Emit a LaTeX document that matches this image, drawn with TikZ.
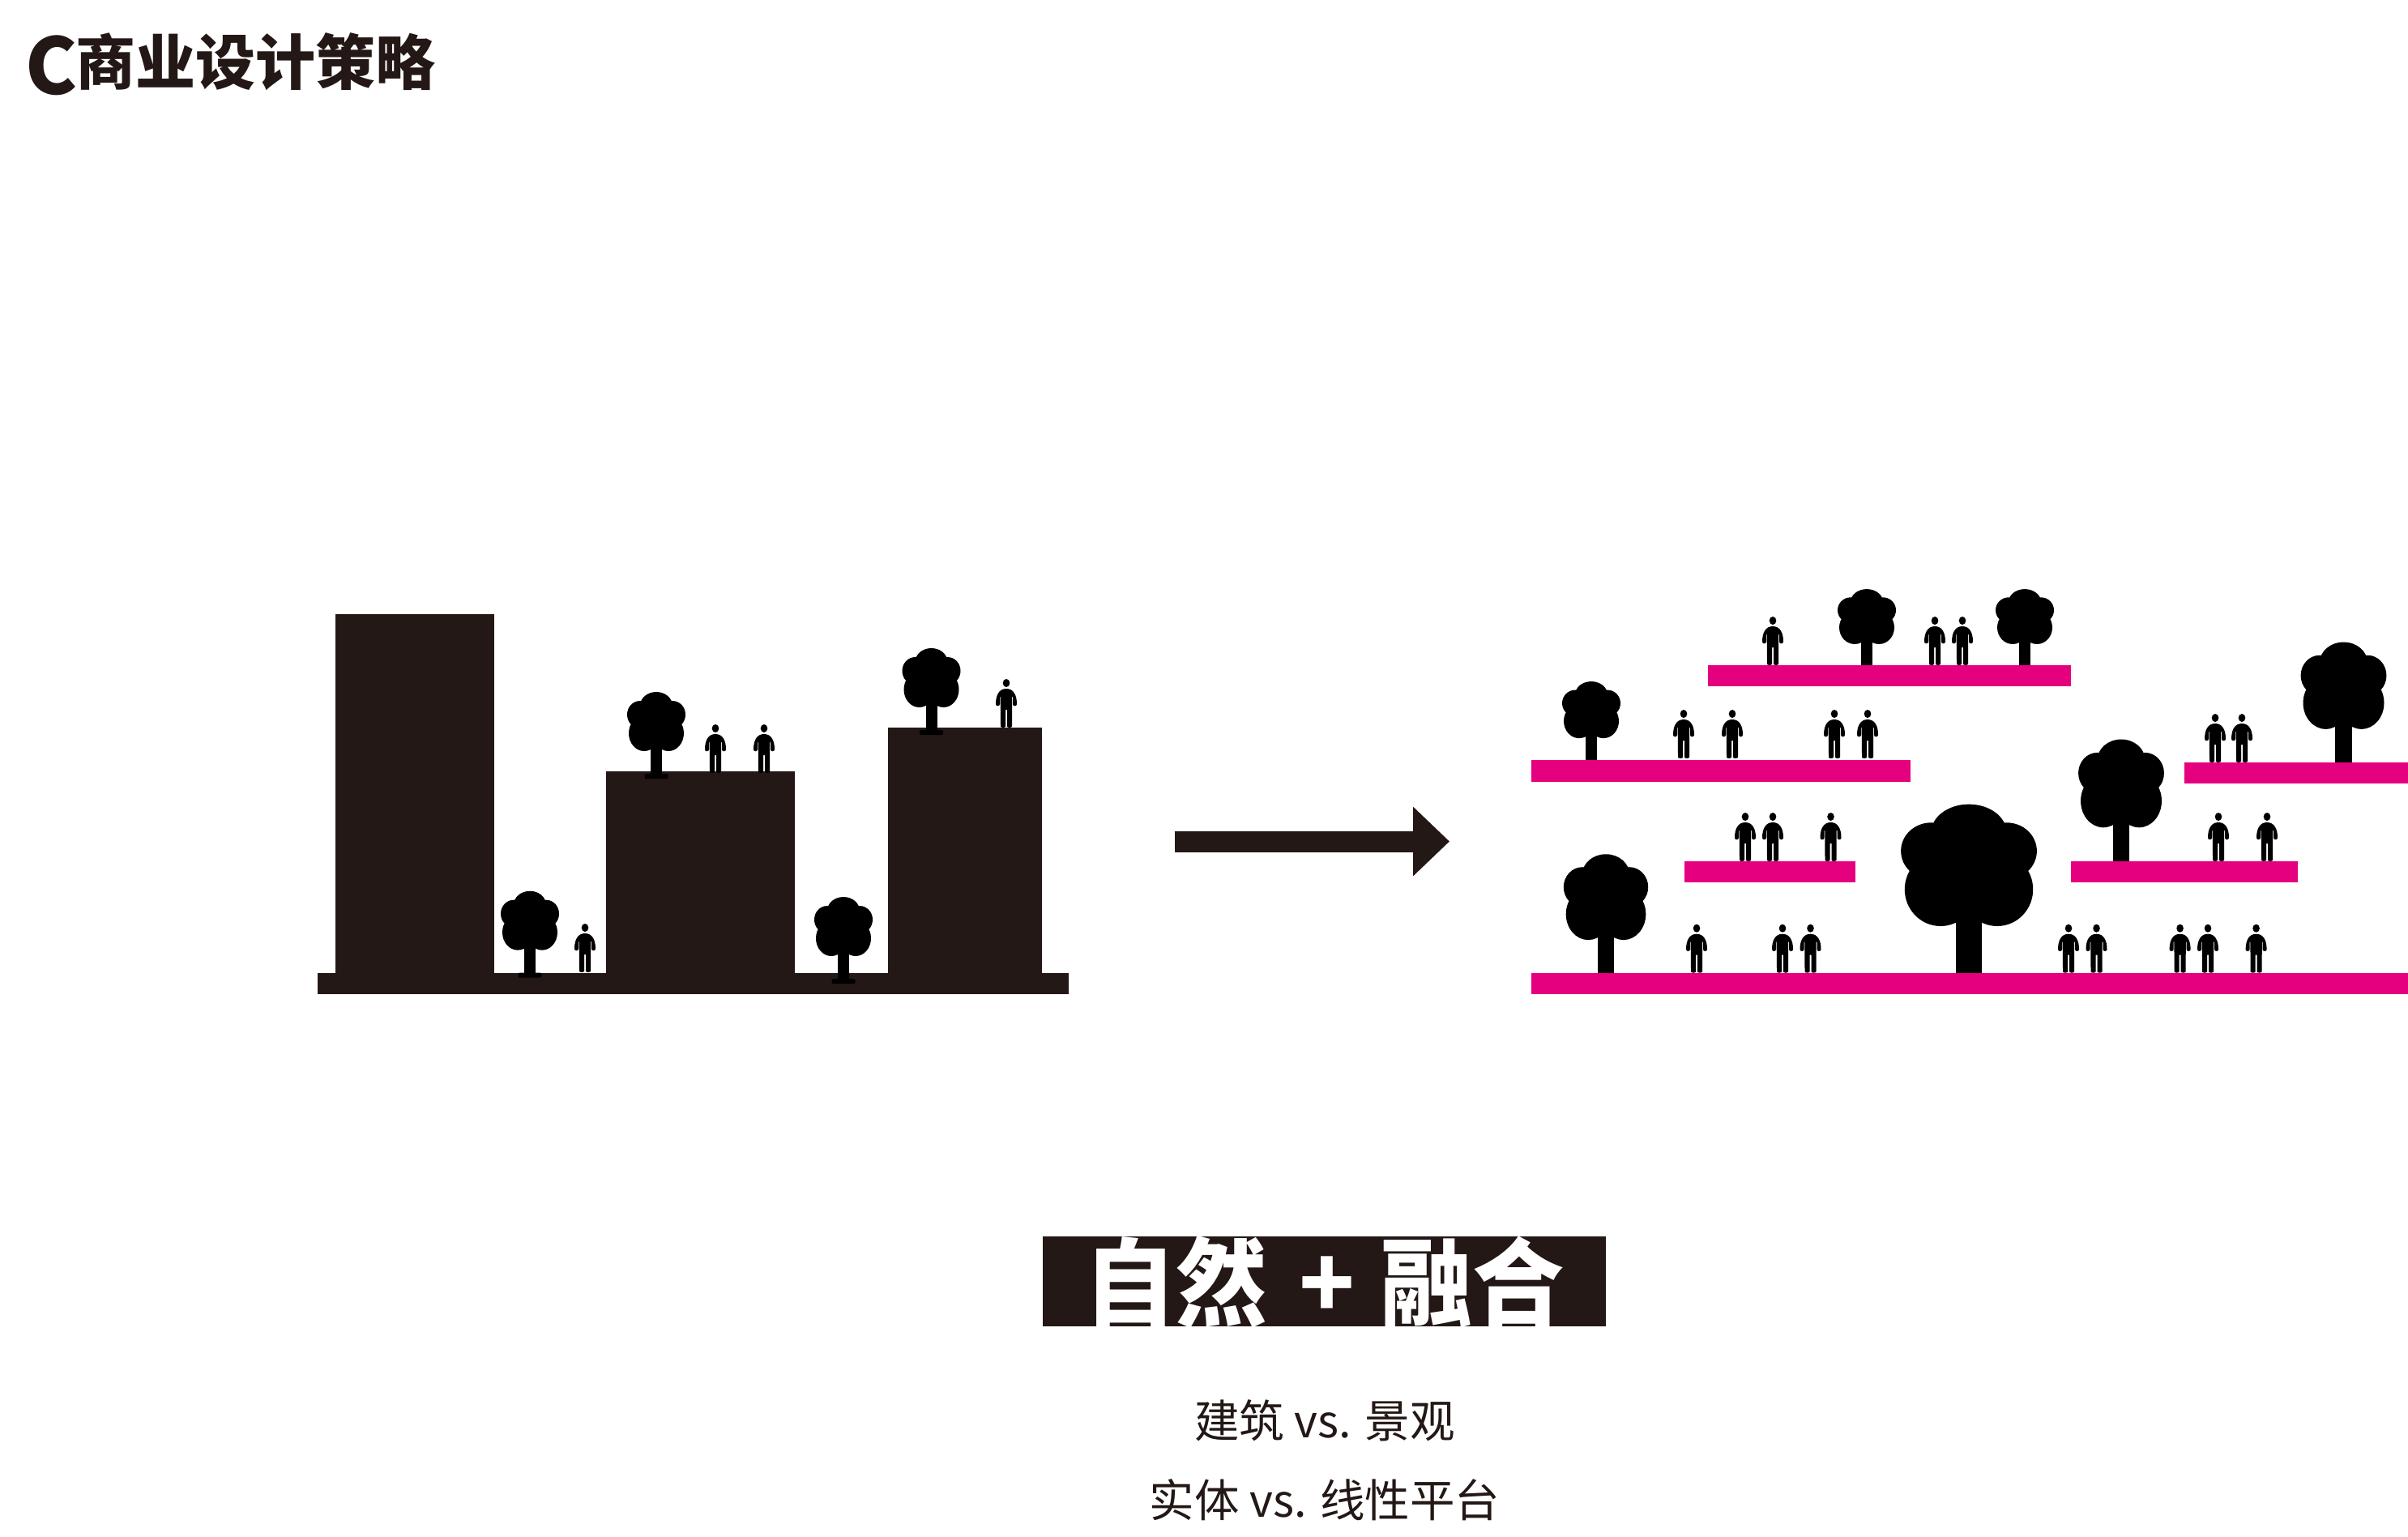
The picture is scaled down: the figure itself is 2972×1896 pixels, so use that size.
\documentclass[tikz,border=0pt]{standalone}
\usepackage{fontspec}
\newfontfamily\cjk{Noto Sans CJK SC}
\usetikzlibrary{arrows.meta}
\definecolor{ink}{HTML}{231815}
\definecolor{rose}{HTML}{E4007F}
\tikzset{
  x=1pt,y=-1pt,
  treeshape/.pic={
    \fill[black] (0,-84) ellipse[x radius=20,y radius=17]
      (-20,-73) ellipse[x radius=16,y radius=17]
      (20,-73) ellipse[x radius=16,y radius=17]
      (-15,-50) ellipse[x radius=19,y radius=22]
      (15,-50) ellipse[x radius=19,y radius=22]
      (0,-60) ellipse[x radius=26,y radius=28];
    \fill[black] (-7,-40) rectangle (7,0);
  },
  footshape/.pic={
    \fill[black,rounded corners=1.5] (-14.5,0) rectangle (14.5,6);
  },
  personshape/.pic={
    \fill[black] (0,-55) ellipse[x radius=4.3,y radius=5];
    \fill[black] (0,-48) .. controls (-9,-48) and (-13,-40) .. (-13,-29)
      .. controls (-13,-26) and (-8,-26) .. (-8,-29)
      -- (-8,-38) -- (-7.2,-38) -- (-7,-1.5)
      .. controls (-7,0.4) and (-1,0.4) .. (-1,-1.5) -- (-1,-22) -- (1,-22) -- (1,-1.5)
      .. controls (1,0.4) and (7,0.4) .. (7,-1.5) -- (7.2,-38) -- (8,-38) -- (8,-29)
      .. controls (8,-26) and (13,-26) .. (13,-29)
      .. controls (13,-40) and (9,-48) .. (0,-48) -- cycle;
  },
  solid/.style={fill=ink},
  deck/.style={fill=rose},
  titletext/.style={text=ink,inner sep=0,outer sep=0,anchor=base west,font=\cjk\bfseries},
  subtext/.style={text=ink,inner sep=0,outer sep=0,anchor=base,font=\cjk\fontsize{55.5}{60}\selectfont},
  bannertext/.style={text=white,inner sep=0,outer sep=0,anchor=base west,font=\cjk\bfseries\fontsize{118}{130}\selectfont},
  flow/.style={draw=ink,line width=26,-{Triangle[length=45,width=83]}}
}
\begin{document}
\begin{tikzpicture}
\useasboundingbox (0,0) rectangle (2972,1896);
% title
\node[titletext] (titleC) at (31,116) {\fontsize{96}{100}\selectfont C};
\node[titletext] (titleT) at (93,104) {\fontsize{74}{80}\selectfont 商业设计策略};
% left massing
\fill[solid] (414,758) rectangle (610,1201);
\fill[solid] (748,952) rectangle (981,1201);
\fill[solid] (1096,898) rectangle (1286,1201);
\fill[solid] (392,1200.5) rectangle (1319,1227);
% left trees and people
\foreach \x/\y in {654/1200.7,1041/1208,810/955,1149.5/901}{
  \pic at (\x,\y) {treeshape};
  \pic at (\x,\y) {footshape};
}
\foreach \x/\y in {722/1200,883/954,943/954,1242/898}{
  \pic at (\x,\y) {personshape};
}
% arrow
\coordinate (arrowStart) at (1450,1038.5);
\coordinate (arrowEnd) at (1789,1038.5);
\draw[flow] (arrowStart) -- (arrowEnd);
% platforms
\fill[deck] (2108,821) rectangle (2556,847);
\fill[deck] (1890,938) rectangle (2358,965);
\fill[deck] (2696,941) rectangle (2972,967);
\fill[deck] (2079,1063) rectangle (2290,1089);
\fill[deck] (2556,1063) rectangle (2836,1089);
\fill[deck] (1890,1200.7) rectangle (2972,1226.5);
% right trees
\foreach \x/\y/\sx/\sy in {2304/821/1/.93,2499/821/1/.93,1964/938/1/.96,
   2892.5/941/1.47/1.47,2618/1063/1.47/1.49,1982/1200.7/1.45/1.45,2430/1200.7/2.33/2.06}{
  \pic[xscale=\sx,yscale=\sy] at (\x,\y) {treeshape};
}
% right people
\foreach \x/\y in {2188/821,2388/821,2422/821,
   2078/936,2138/936,2264/936,2305/936,
   2734/941,2767/941,
   2154/1063,2188/1063,2259.5/1063,
   2738/1063,2798/1063,
   2094/1200.7,2200/1200.7,2234.5/1200.7,2553/1200.7,2587.5/1200.7,2690.6/1200.7,2725/1200.7,2784.6/1200.7}{
  \pic at (\x,\y) {personshape};
}
% banner
\fill[solid] (1287,1526) rectangle (1982,1637);
\begin{scope}
  \clip (1287,1526) rectangle (1982,1637);
  \node[bannertext] (banner) at (1338,1627) {\scalebox{.96}[1]{自然\hspace{41pt}+\hspace{33pt}融合}};
\end{scope}
% captions
\node[subtext] (capA) at (1635,1774) {建筑 vs. 景观};
\node[subtext] (capB) at (1635,1872) {实体 vs. 线性平台};
\end{tikzpicture}
\end{document}
